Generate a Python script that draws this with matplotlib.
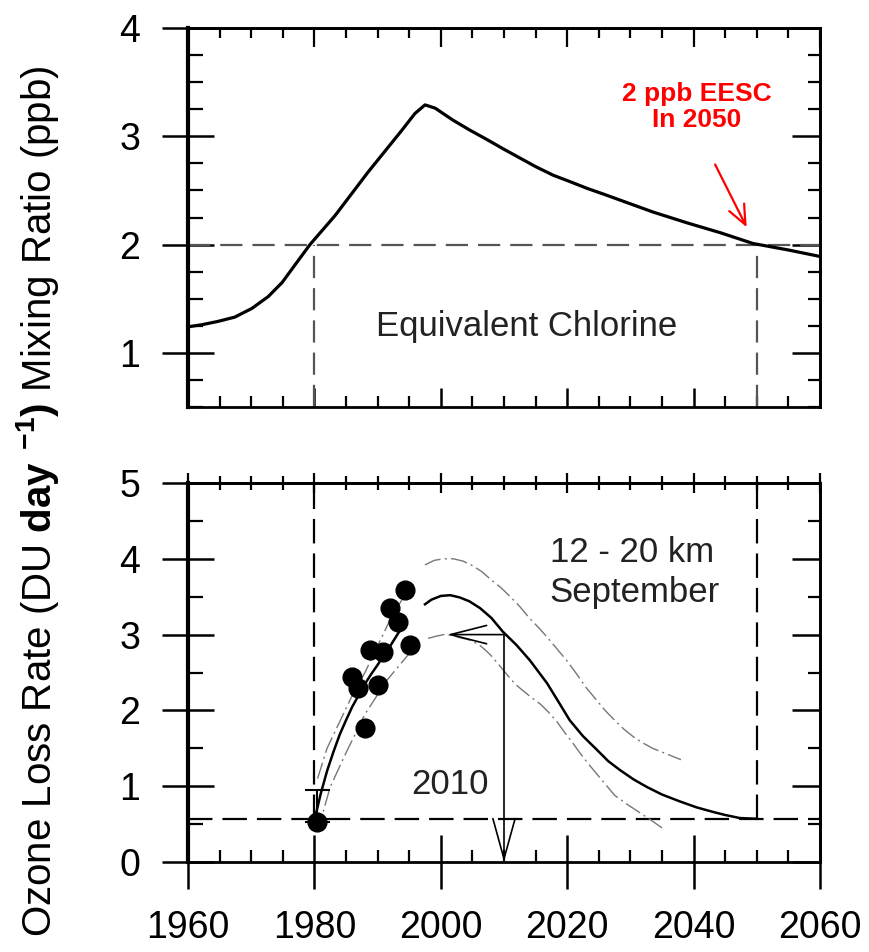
import numpy as np
import matplotlib
matplotlib.use("Agg")
import matplotlib.pyplot as plt
from matplotlib.ticker import MultipleLocator, NullFormatter

plt.rcParams['font.family'] = ['Liberation Sans', 'DejaVu Sans']
plt.rcParams['mathtext.fontset'] = 'custom'
plt.rcParams['mathtext.rm'] = 'Liberation Sans'
plt.rcParams['mathtext.bf'] = 'Liberation Sans:bold'

# ---------------- data ----------------
# Top panel: equivalent chlorine (ppb)
eesc_years = [1960, 1962.2, 1964.7, 1967.4, 1970.1, 1972.7, 1974.9, 1976.9, 1979.3, 1983.3,
              1988.5, 1993.9, 1995.9, 1997.5, 1999.1, 2001.9, 2004.5, 2007.3, 2010.0,
              2012.5, 2015.0, 2017.8, 2020.5, 2023.1, 2025.8, 2028.4, 2031.0, 2033.6,
              2036.3, 2039.0, 2041.6, 2044.2, 2046.8, 2049.4, 2055.0, 2060]
eesc_values = [1.24, 1.26, 1.29, 1.33, 1.41, 1.52, 1.65, 1.81, 2.00, 2.27,
               2.67, 3.06, 3.21, 3.29, 3.26, 3.15, 3.06, 2.97, 2.88,
               2.80, 2.72, 2.64, 2.58, 2.52, 2.465, 2.41, 2.355, 2.30,
               2.25, 2.20, 2.155, 2.11, 2.06, 2.01, 1.95, 1.89]
threshold_ppb = 2.0
cross_years = [1980, 2050]

# Bottom panel: ozone loss rate (DU/day)
model_years_a = [1980, 1981, 1982, 1983, 1984, 1985, 1986, 1987, 1988, 1989, 1990,
                 1991, 1992, 1993.5]
model_vals_a = [0.55, 0.90, 1.20, 1.45, 1.68, 1.87, 2.05, 2.20, 2.35, 2.48, 2.60,
                2.73, 2.85, 3.05]
model_years_b = [1997.5, 1998.5, 2000, 2001.5, 2003, 2004.5, 2006.2, 2008, 2009.8, 2012,
                 2014.1, 2016.8, 2018.5, 2020.4, 2022.5, 2024.7, 2026.5, 2028.4, 2030.5,
                 2032.6, 2035, 2037.8, 2040.5, 2043.1, 2045, 2047.3, 2050]
model_vals_b = [3.40, 3.46, 3.51, 3.52, 3.49, 3.44, 3.35, 3.22, 3.04, 2.86,
                2.66, 2.36, 2.13, 1.87, 1.66, 1.48, 1.33, 1.21, 1.09,
                0.99, 0.89, 0.80, 0.72, 0.66, 0.62, 0.58, 0.57]

upper_years_a = [1980.5, 1982, 1984, 1986, 1988, 1990, 1992, 1994.5]
upper_vals_a = [1.10, 1.50, 1.85, 2.20, 2.50, 2.85, 3.20, 3.55]
upper_years_b = [1997.5, 1999, 2000.5, 2002, 2003.5, 2005, 2006.5, 2008, 2009.5, 2011,
                 2012.5, 2014, 2015.5, 2017, 2018.5, 2020, 2021.5, 2023, 2024.5, 2026,
                 2027.5, 2029, 2030.5, 2032, 2033.5, 2035, 2036.5, 2038]
upper_vals_b = [3.92, 3.98, 4.00, 4.00, 3.97, 3.91, 3.83, 3.72, 3.62, 3.50,
                3.37, 3.22, 3.09, 2.95, 2.80, 2.65, 2.48, 2.30, 2.15, 2.00,
                1.87, 1.75, 1.65, 1.57, 1.50, 1.45, 1.40, 1.35]

lower_years_a = [1980.5, 1982.5, 1985, 1988, 1991.5, 1995.5]
lower_vals_a = [0.40, 0.99, 1.44, 1.95, 2.40, 2.80]
lower_years_b = [1998, 1999.3, 2000.5, 2001.8, 2003, 2004.5, 2006, 2007, 2008, 2009,
                 2010, 2011, 2012, 2013.3, 2014.5, 2015.8, 2017, 2018.3, 2019.5, 2020.8,
                 2022, 2023.5, 2025, 2026.3, 2027.5, 2029.5, 2031.5, 2033.3, 2035]
lower_vals_b = [2.95, 2.98, 3.00, 2.99, 2.96, 2.93, 2.87, 2.80, 2.72, 2.62,
                2.52, 2.42, 2.33, 2.24, 2.16, 2.08, 1.98, 1.86, 1.72, 1.58,
                1.44, 1.28, 1.13, 1.00, 0.88, 0.76, 0.65, 0.55, 0.45]

obs_years = [1994.3, 1992.0, 1993.2, 1988.8, 1990.9, 1995.1, 1986.0, 1986.9, 1990.1, 1988.0, 1980.4]
obs_vals = [3.59, 3.35, 3.17, 2.80, 2.77, 2.86, 2.44, 2.30, 2.34, 1.77, 0.53]
obs1980_err_up = 0.42

baseline_loss = 0.57
arrow_year = 2010
arrow_level = 3.0
arrow_tip_year = 2001

# ---------------- figure ----------------
W, H = 869, 952
fig = plt.figure(figsize=(W / 100, H / 100), dpi=100)
L, R = 188, 820
ax1 = fig.add_axes([L / W, 1 - 407 / H, (R - L) / W, 379 / H])
ax2 = fig.add_axes([L / W, 1 - 862 / H, (R - L) / W, 379 / H])

TICK_FS = 27
TEXT_FS = 25


def style_axes(ax, ymajor, yminor, bottom_labels, top_inout):
    ax.set_xlim(1960, 2060)
    ax.xaxis.set_major_locator(MultipleLocator(20))
    ax.xaxis.set_minor_locator(MultipleLocator(5))
    ax.yaxis.set_major_locator(MultipleLocator(ymajor))
    ax.yaxis.set_minor_locator(MultipleLocator(yminor))
    for s in ax.spines.values():
        s.set_linewidth(2.0)
    ax.spines['left'].set_linewidth(3.0)
    ax.tick_params(axis='y', which='major', direction='inout', length=37, width=1.8,
                   labelsize=TICK_FS, pad=16, left=True, right=False)
    ax.tick_params(axis='y', which='minor', direction='in', length=11, width=1.6,
                   left=True, right=False)
    if bottom_labels:
        ax.tick_params(axis='x', which='major', direction='inout', length=39, width=1.8,
                       labelsize=TICK_FS, pad=15, bottom=True, top=False)
        ax.tick_params(axis='x', which='minor', direction='in', length=9, width=1.6,
                       bottom=True, top=False)
    else:
        ax.tick_params(axis='x', which='major', direction='in', length=14, width=1.8,
                       labelbottom=False, bottom=True, top=False)
        ax.tick_params(axis='x', which='minor', direction='in', length=8, width=1.6,
                       bottom=True, top=False)
    # right axis ticks (inward)
    sy = ax.secondary_yaxis('right')
    sy.yaxis.set_major_locator(MultipleLocator(ymajor))
    sy.yaxis.set_minor_locator(MultipleLocator(yminor))
    sy.yaxis.set_major_formatter(NullFormatter())
    sy.tick_params(axis='y', which='major', direction='in', length=20, width=1.8)
    sy.tick_params(axis='y', which='minor', direction='in', length=9, width=1.6)
    sy.spines['right'].set_linewidth(2.0)
    # top axis ticks
    sx = ax.secondary_xaxis('top')
    sx.xaxis.set_major_locator(MultipleLocator(20))
    sx.xaxis.set_minor_locator(MultipleLocator(5))
    sx.xaxis.set_major_formatter(NullFormatter())
    d = 'inout' if top_inout else 'in'
    sx.tick_params(axis='x', which='major', direction=d, length=14, width=1.6)
    sx.tick_params(axis='x', which='minor', direction=d, length=10 if top_inout else 7, width=1.6)
    sx.spines['top'].set_linewidth(2.0)


# ---------- top panel ----------
ax1.set_ylim(0.5, 4)
style_axes(ax1, 1, 0.25, bottom_labels=False, top_inout=False)
dash_gray = dict(color='#555555', lw=1.6, linestyle=(0, (10, 4.5)))
ax1.axhline(threshold_ppb, **dash_gray, zorder=2)
for yr in cross_years:
    ax1.plot([yr, yr], [0.5, threshold_ppb], **dash_gray, zorder=2)
ax1.plot(eesc_years, eesc_values, color='black', lw=2.3, zorder=3,
         solid_joinstyle='round')
ax1.text(2013.6, 1.24, 'Equivalent Chlorine', fontsize=TEXT_FS, ha='center',
         va='center', color='#222222')
ax1.text(2040.5, 3.27, '2 ppb EESC\nIn 2050', fontsize=19, fontweight='bold',
         color='red', ha='center', va='center', linespacing=1.15)
ax1.annotate('', xy=(2048.4, 2.16), xytext=(2043.4, 2.74),
             arrowprops=dict(arrowstyle='->,head_length=0.7,head_width=0.3',
                             color='red', lw=1.6, shrinkA=0, shrinkB=0,
                             mutation_scale=20))

# ---------- bottom panel ----------
ax2.set_ylim(0, 5)
style_axes(ax2, 1, 0.5, bottom_labels=True, top_inout=True)
dash_black = dict(color='black', lw=1.6, linestyle=(0, (11, 4.5)))
ax2.axhline(baseline_loss, **dash_black, zorder=2)
for yr in cross_years:
    ax2.plot([yr, yr], [baseline_loss, 5], **dash_black, zorder=2)

dd = dict(color='#777777', lw=1.0, linestyle=(0, (12, 3, 1.5, 3)), zorder=3)
ax2.plot(upper_years_a, upper_vals_a, **dd)
ax2.plot(upper_years_b, upper_vals_b, **dd)
ax2.plot(lower_years_a, lower_vals_a, **dd)
ax2.plot(lower_years_b, lower_vals_b, **dd)
ax2.plot(model_years_a, model_vals_a, color='black', lw=1.8, zorder=4)
ax2.plot(model_years_b, model_vals_b, color='black', lw=1.8, zorder=4)

ax2.errorbar([obs_years[-1]], [obs_vals[-1]], yerr=[[0], [obs1980_err_up]],
             fmt='none', ecolor='black', elinewidth=1.5, capsize=9, capthick=1.5, zorder=4)
ax2.plot(obs_years, obs_vals, 'o', color='black', markersize=13.5, zorder=5)

ax2.annotate('', xy=(arrow_tip_year, arrow_level), xytext=(arrow_year, arrow_level),
             arrowprops=dict(arrowstyle='->,head_length=1.3,head_width=0.33',
                             color='black', lw=1.2, shrinkA=0, shrinkB=0,
                             mutation_scale=20), zorder=6)
ax2.annotate('', xy=(arrow_year, 0), xytext=(arrow_year, arrow_level),
             arrowprops=dict(arrowstyle='->,head_length=1.45,head_width=0.4',
                             color='black', lw=1.2, shrinkA=0, shrinkB=0,
                             mutation_scale=20), zorder=6)
ax2.text(2001.5, 1.02, str(arrow_year), fontsize=TEXT_FS, ha='center', va='center',
         color='#222222')
ax2.text(2030.2, 4.08, '12 - 20 km', fontsize=TEXT_FS, ha='center', va='center',
         color='#222222')
ax2.text(2030.7, 3.56, 'September', fontsize=TEXT_FS, ha='center', va='center',
         color='#222222')

# ---------- shared y label ----------
label = r"Ozone Loss Rate (DU $\mathbf{day}\ ^{\mathbf{-1}}\mathbf{)}$ Mixing Ratio (ppb)"
fig.text(0.043, 1 - 501 / H, label, rotation=90, ha='center', va='center',
         fontsize=29, color='black')

fig.savefig('out.png', dpi=100)
